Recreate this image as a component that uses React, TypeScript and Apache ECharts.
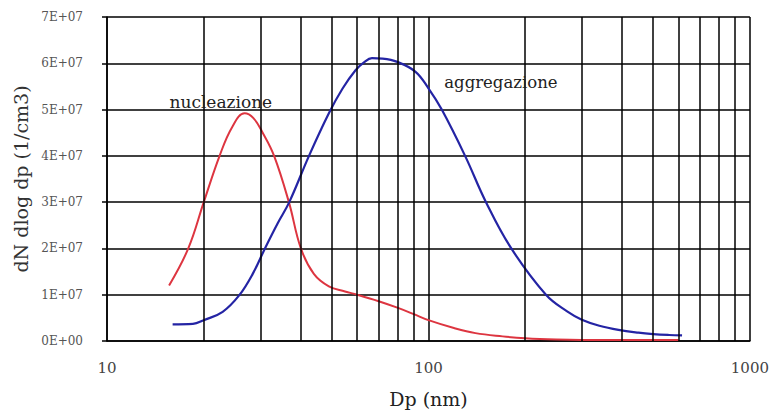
import React, { useEffect, useRef } from "react";
import * as echarts from "echarts";

const nucleX = [15.6, 17.9, 20, 22.4, 24.5, 26.8, 28.5, 30.5, 33.1, 36.8, 40.1, 44, 49, 55, 60, 70, 80, 90, 100, 120, 140, 170, 200, 250, 300, 400, 500, 600];
const nucleY = [1.2, 2.0, 3.0, 4.0, 4.62, 4.92, 4.82, 4.5, 4.0, 3.0, 2.0, 1.45, 1.18, 1.07, 1.0, 0.86, 0.72, 0.58, 0.45, 0.28, 0.17, 0.1, 0.06, 0.03, 0.02, 0.02, 0.02, 0.02];

const aggrX = [16, 18.5, 20, 22.9, 25.8, 28.4, 31, 34, 36.9, 42.5, 49, 54, 59.3, 63, 66.7, 72, 80, 91, 100, 110, 130, 151, 181, 232, 270, 300, 340, 390, 450, 500, 560, 615];
const aggrY = [0.36, 0.37, 0.45, 0.63, 0.99, 1.45, 2.0, 2.55, 3.0, 4.0, 4.92, 5.45, 5.85, 6.02, 6.11, 6.1, 6.03, 5.82, 5.46, 5.0, 4.0, 3.0, 2.0, 1.0, 0.64, 0.46, 0.33, 0.24, 0.18, 0.15, 0.13, 0.12];

const minorGrid = [20, 30, 40, 50, 60, 70, 80, 90, 200, 300, 400, 500, 600, 700, 800, 900];
const SCALE = 1e7;

const labelNucle = { text: "nucleazione", x: 22.6, y: 5.17 };
const labelAggr = { text: "aggregazione", x: 168, y: 5.58 };

const FONT = "DejaVu Serif";

export default function App() {
  const ref = useRef<HTMLDivElement>(null);
  useEffect(() => {
    if (!ref.current) return;
    const chart = echarts.init(ref.current, null, { renderer: "svg" });
    const toPairs = (xs: number[], ys: number[]) => xs.map((x, i) => [x, ys[i] * SCALE]);
    chart.setOption({
      animation: false,
      backgroundColor: "#fff",
      textStyle: { fontFamily: FONT },
      grid: { left: 107, right: 19, top: 17, bottom: 75 },
      xAxis: {
        type: "log",
        logBase: 10,
        min: 10,
        max: 1000,
        name: "Dp (nm)",
        nameLocation: "middle",
        nameGap: 48,
        nameTextStyle: { fontFamily: FONT, fontSize: 19, color: "#222" },
        axisLine: { show: true, lineStyle: { color: "#000", width: 1.5 } },
        axisTick: { show: false },
        axisLabel: { fontFamily: FONT, fontSize: 15, color: "#444", margin: 19, formatter: (v: number) => String(v) },
        splitLine: { show: true, lineStyle: { color: "#000", width: 1.5 } },
      },
      yAxis: {
        type: "value",
        min: 0,
        max: 7 * SCALE,
        interval: SCALE,
        name: "dN dlog dp (1/cm3)",
        nameLocation: "middle",
        nameGap: 63,
        nameRotate: 90,
        nameTextStyle: { fontFamily: FONT, fontSize: 19, color: "#333" },
        axisLine: { show: true, lineStyle: { color: "#000", width: 1.5 } },
        axisTick: { show: true, length: 5, lineStyle: { color: "#000", width: 1.5 } },
        axisLabel: {
          fontFamily: FONT,
          fontSize: 12,
          color: "#555",
          margin: 24,
          formatter: (v: number) => (v === 0 ? "0E+00" : `${Math.round(v / SCALE)}E+07`),
        },
        splitLine: { show: true, lineStyle: { color: "#000", width: 1.5 } },
      },
      series: [
        {
          type: "line",
          data: [],
          silent: true,
          markLine: {
            silent: true,
            symbol: ["none", "none"],
            label: { show: false },
            lineStyle: { color: "#000", width: 1.5, type: "solid" },
            data: minorGrid.map((v) => ({ xAxis: v })),
          },
        },
        {
          type: "line",
          name: "nucleazione",
          data: toPairs(nucleX, nucleY),
          smooth: 0.4,
          showSymbol: false,
          lineStyle: { color: "#dd3540", width: 2 },
          itemStyle: { color: "#dd3540" },
          markPoint: {
            symbol: "circle",
            symbolSize: 0,
            label: { show: true, formatter: labelNucle.text, fontFamily: FONT, fontSize: 17, color: "#222", position: "inside" },
            data: [{ coord: [labelNucle.x, labelNucle.y * SCALE] }],
          },
        },
        {
          type: "line",
          name: "aggregazione",
          data: toPairs(aggrX, aggrY),
          smooth: 0.4,
          showSymbol: false,
          lineStyle: { color: "#2424a4", width: 2.2 },
          itemStyle: { color: "#2424a4" },
          markPoint: {
            symbol: "circle",
            symbolSize: 0,
            label: { show: true, formatter: labelAggr.text, fontFamily: FONT, fontSize: 16.5, color: "#222", position: "inside" },
            data: [{ coord: [labelAggr.x, labelAggr.y * SCALE] }],
          },
        },
      ],
    });
    return () => chart.dispose();
  }, []);
  return <div ref={ref} style={{ position: "fixed", left: 0, top: 0, width: 772, height: 416 }} />;
}
